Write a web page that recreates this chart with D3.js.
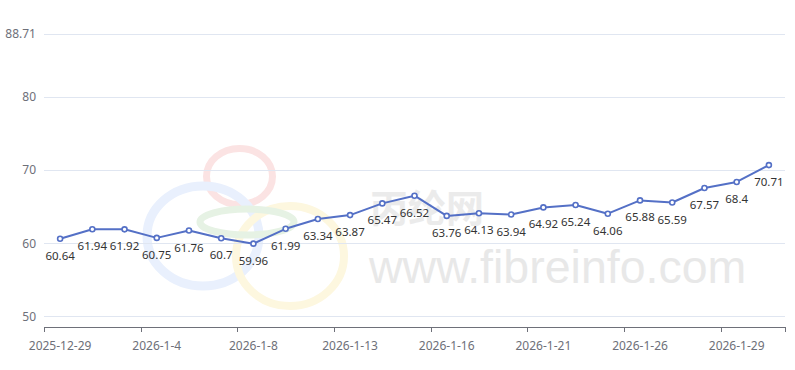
<!DOCTYPE html>
<html><head><meta charset="utf-8">
<script src="https://cdn.jsdelivr.net/npm/d3@7/dist/d3.min.js"></script>
<style>html,body{margin:0;padding:0;background:#fff}</style>
</head><body>
<svg id="c" width="795" height="370"></svg>
<script>
const categories = ["2025-12-29","2025-12-30","2025-12-31","2026-1-4","2026-1-5","2026-1-6","2026-1-8","2026-1-9","2026-1-12","2026-1-13","2026-1-14","2026-1-15","2026-1-16","2026-1-19","2026-1-20","2026-1-21","2026-1-22","2026-1-23","2026-1-26","2026-1-27","2026-1-28","2026-1-29","2026-1-30"];
const values = [60.64,61.94,61.92,60.75,61.76,60.7,59.96,61.99,63.34,63.87,65.47,66.52,63.76,64.13,63.94,64.92,65.24,64.06,65.88,65.59,67.57,68.4,70.71];
const yTicks = [50,60,70,80,88.71];
const yDomain = [48.6, 88.71];

const svg = d3.select("#c");
const L = 44, R = 785, T = 33.5, B = 326.7;
const x = d3.scaleBand().domain(categories).range([L, R]).padding(0);
const y = d3.scaleLinear().domain(yDomain).range([B, T]);
const font = "'Noto Sans', 'Liberation Sans', sans-serif";

// watermark
const wm = svg.append("g");
const rings = [
  {cx:239.5, cy:176.5, rx:33, ry:28, c:"#fbe3e3", w:7},
  {cx:203, cy:236, rx:56, ry:50, c:"#e9f0fd", w:9},
  {cx:290, cy:256, rx:54, ry:50, c:"#fdf7df", w:8},
  {cx:247, cy:222, rx:47, ry:13, c:"#e6f2e4", w:7}
];
wm.selectAll("ellipse").data(rings).join("ellipse")
  .attr("cx", d=>d.cx).attr("cy", d=>d.cy).attr("rx", d=>d.rx).attr("ry", d=>d.ry)
  .attr("fill","none").attr("stroke", d=>d.c).attr("stroke-width", d=>d.w);
wm.append("text").attr("x", 370).attr("y", 222).attr("font-family","'Noto Sans CJK SC', sans-serif")
  .attr("font-size", 38).attr("font-weight","bold").attr("fill","#ebebeb").text("丙纶网");
wm.append("text").attr("x", 369).attr("y", 283).attr("font-family","'Liberation Sans', Arial, sans-serif")
  .attr("font-size", 46.5).attr("fill","#e8e8e8").text("www.fibreinfo.com");

// grid + y labels
svg.append("g").selectAll("line").data(yTicks).join("line")
  .attr("x1", L).attr("x2", R).attr("y1", d=>Math.round(y(d))+0.5).attr("y2", d=>Math.round(y(d))+0.5)
  .attr("stroke","#E0E6F1").attr("stroke-width",1);
svg.append("g").selectAll("text").data(yTicks).join("text")
  .attr("x", 36).attr("y", d=>y(d)).attr("dy","0.35em").attr("text-anchor","end")
  .attr("font-family", font).attr("font-size", 12).attr("fill","#6E7079").text(d=>d);

// x axis
const xa = svg.append("g");
xa.append("line").attr("x1", L).attr("x2", R).attr("y1", Math.round(B)+0.5).attr("y2", Math.round(B)+0.5)
  .attr("stroke","#6E7079").attr("stroke-width",1);
const tickIdx = categories.map((d,i)=>i).filter(i=>i%3===0);
const tickPos = tickIdx.map(i=>x(categories[i])).concat([R]);
xa.selectAll("line.t").data(tickPos).join("line").attr("class","t")
  .attr("x1", d=>Math.round(d)+0.5).attr("x2", d=>Math.round(d)+0.5)
  .attr("y1", Math.round(B)).attr("y2", Math.round(B)+5).attr("stroke","#6E7079");
xa.selectAll("text").data(tickIdx).join("text")
  .attr("x", i=>x(categories[i]) + x.bandwidth()/2).attr("y", 346).attr("dy","0.35em")
  .attr("text-anchor","middle").attr("font-family", font).attr("font-size", 12).attr("fill","#6E7079")
  .text(i=>categories[i]);

// line
const cx = (d,i)=>x(categories[i]) + x.bandwidth()/2;
const line = d3.line().x((d,i)=>cx(d,i)).y(d=>y(d));
svg.append("path").datum(values).attr("d", line).attr("fill","none")
  .attr("stroke","#5470C6").attr("stroke-width",2).attr("stroke-linejoin","round");
svg.append("g").selectAll("circle").data(values).join("circle")
  .attr("cx", (d,i)=>cx(d,i)).attr("cy", d=>y(d)).attr("r", 2.5)
  .attr("fill","#fff").attr("stroke","#5470C6").attr("stroke-width",1.6);
svg.append("g").selectAll("text").data(values).join("text")
  .attr("x", (d,i)=>cx(d,i)).attr("y", d=>y(d)+17).attr("dy","0.35em").attr("text-anchor","middle")
  .attr("font-family", font).attr("font-size", 11.5).attr("fill","#333").text(d=>d);
</script>
</body></html>
